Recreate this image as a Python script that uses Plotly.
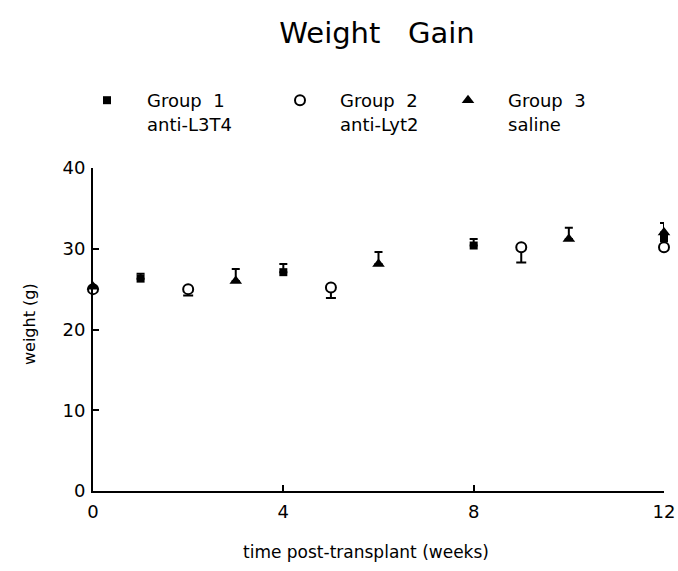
import plotly.graph_objects as go

# ---- data ----
weeks_g1 = [0, 1, 4, 8, 12]
weight_g1 = [25.0, 26.3, 27.1, 30.4, 31.3]
err_up_g1 = [0, 0.6, 1.0, 0.8, 0]

weeks_g2 = [0, 2, 5, 9, 12]
weight_g2 = [25.0, 25.0, 25.2, 30.2, 30.2]
err_down_g2 = [0, 0.8, 1.3, 1.9, 0]

weeks_g3 = [0, 3, 6, 10, 12]
weight_g3 = [25.3, 26.0, 28.1, 31.2, 32.0]
err_up_g3 = [0, 1.5, 1.5, 1.4, 1.2]

group_names = ["Group\u00a0\u00a01<br>anti-L3T4",
               "Group\u00a0\u00a02<br>anti-Lyt2",
               "Group\u00a0\u00a03<br>saline"]
x_ticks = [0, 4, 8, 12]
y_ticks = [0, 10, 20, 30, 40]

FONT = "DejaVu Sans"
W, H = 678, 571

# plot area (reference pixels)
PL, PR, PT, PB = 93, 664, 168, 491
pw, ph = PR - PL, PB - PT

fig = go.Figure()
fig.add_trace(go.Scatter(
    x=weeks_g1, y=weight_g1, mode="markers", name=group_names[0],
    marker=dict(symbol="square", size=8, color="black"),
    error_y=dict(type="data", symmetric=False, array=err_up_g1,
                 arrayminus=[0] * len(err_up_g1), color="black",
                 thickness=2, width=4),
    cliponaxis=False, legend="legend"))
fig.add_trace(go.Scatter(
    x=weeks_g2, y=weight_g2, mode="markers", name=group_names[1],
    marker=dict(symbol="circle", size=10, color="white",
                line=dict(color="black", width=2)),
    error_y=dict(type="data", symmetric=False, array=[0] * len(err_down_g2),
                 arrayminus=err_down_g2, color="black",
                 thickness=2, width=5),
    cliponaxis=False, legend="legend2"))
fig.add_trace(go.Scatter(
    x=weeks_g3, y=weight_g3, mode="markers", name=group_names[2],
    marker=dict(symbol="triangle-up", size=11, color="black"),
    error_y=dict(type="data", symmetric=False, array=err_up_g3,
                 arrayminus=[0] * len(err_up_g3), color="black",
                 thickness=2, width=4),
    cliponaxis=False, legend="legend3"))

leg_common = dict(xref="container", yref="container", xanchor="left",
                  yanchor="top", valign="top", bgcolor="rgba(0,0,0,0)",
                  font=dict(family=FONT, size=18, color="black"),
                  itemwidth=70)
ly = 1 - 82 / H
SYM_OFF = 40  # symbol centre offset from legend's left edge


def lx(sym_x):
    return (sym_x - SYM_OFF) / W


fig.update_layout(
    width=W, height=H,
    showlegend=True,
    paper_bgcolor="white", plot_bgcolor="white",
    margin=dict(l=PL, r=W - PR, t=PT, b=H - PB, autoexpand=False),
    font=dict(family=FONT, color="black"),
    title=dict(text="Weight\u00a0\u00a0\u00a0Gain", xref="container",
               yref="container", x=377 / W, y=1 - 33 / H,
               xanchor="center", yanchor="middle",
               font=dict(family=FONT, size=29, color="black")),
    legend=dict(x=lx(107), y=ly, **leg_common),
    legend2=dict(x=lx(300), y=ly, **leg_common),
    legend3=dict(x=lx(468), y=ly, **leg_common),
    xaxis=dict(range=[0, 12], tickvals=x_ticks, ticktext=[str(v) for v in x_ticks],
               showgrid=False, zeroline=False, showline=True,
               linecolor="black", linewidth=2, ticks="inside",
               ticklen=6, tickwidth=2, tickcolor="black",
               ticklabelstandoff=3, automargin=False,
               tickfont=dict(family=FONT, size=18, color="black")),
    yaxis=dict(range=[0, 40], tickvals=y_ticks, ticktext=[str(v) for v in y_ticks],
               showgrid=False, zeroline=False, showline=True,
               linecolor="black", linewidth=2, ticks="inside",
               ticklen=6, tickwidth=2, tickcolor="black",
               ticklabelstandoff=2, automargin=False,
               tickfont=dict(family=FONT, size=18, color="black")),
    annotations=[
        dict(text="time post-transplant (weeks)", xref="paper", yref="paper",
             x=(366 - PL) / pw, y=-(552 - PB) / ph,
             xanchor="center", yanchor="middle", showarrow=False,
             font=dict(family=FONT, size=17, color="black")),
        dict(text="weight (g)", xref="paper", yref="paper", textangle=-90,
             x=-(PL - 29) / pw, y=(PB - 324) / ph,
             xanchor="center", yanchor="middle", showarrow=False,
             font=dict(family=FONT, size=16, color="black")),
    ],
)

fig.write_html("out.html",
               config={"displayModeBar": False},
               post_script="document.body.style.margin='0';"
                           "document.body.style.overflow='hidden';")
